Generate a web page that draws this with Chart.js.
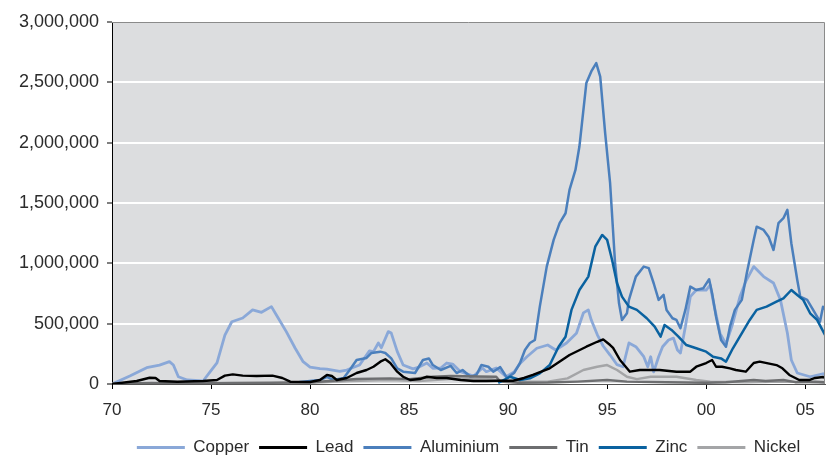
<!DOCTYPE html>
<html>
<head>
<meta charset="utf-8">
<title>Metal stocks</title>
<script src="https://cdn.jsdelivr.net/npm/chart.js@4.4.1/dist/chart.umd.min.js"></script>
<style>
  html, body { margin: 0; padding: 0; background: #fff; }
  #wrap { width: 826px; height: 457px; position: relative; }
</style>
</head>
<body>
<div id="wrap"><canvas id="stocksChart"></canvas></div>
<script>
// Stocks in tonnes, x = year (70 = 1970, 100 = 2000)
const copperYears = [70, 70.9, 71.75, 72.4, 72.9, 73.1, 73.35, 73.8, 74.6, 74.95, 75.3, 75.7, 76.05, 76.6, 77.1, 77.55, 78.05, 78.3, 78.8, 79.25, 79.65, 80, 80.5, 80.85, 81.5, 81.85, 82.5, 83, 83.2, 83.45, 83.6, 83.95, 84.1, 84.4, 84.7, 85.2, 85.5, 85.9, 86.2, 86.6, 86.9, 87.2, 87.6, 88.25, 88.7, 88.9, 89.4, 89.9, 90.3, 90.6, 90.95, 91.45, 92, 92.4, 92.95, 93.45, 93.8, 94.05, 94.2, 94.5, 94.8, 95.15, 95.5, 95.8, 96.1, 96.45, 96.7, 96.85, 97.05, 97.2, 97.35, 97.6, 97.8, 98.1, 98.35, 98.55, 98.7, 98.95, 99.2, 99.5, 100, 100.2, 100.4, 100.7, 101, 101.3, 101.7, 102, 102.4, 102.9, 103.4, 103.75, 104.1, 104.3, 104.6, 105.25, 105.9, 106];
const copperTonnes = [0, 66000, 135000, 157000, 185000, 157000, 60000, 33000, 25000, 100000, 175000, 405000, 516000, 547000, 614000, 594000, 641000, 572000, 434000, 296000, 185000, 140000, 128000, 124000, 105000, 116000, 157000, 275000, 268000, 340000, 300000, 434000, 422000, 270000, 157000, 125000, 140000, 174000, 130000, 133000, 174000, 165000, 102000, 65000, 133000, 102000, 133000, 60000, 100000, 170000, 226000, 296000, 323000, 282000, 340000, 420000, 589000, 614000, 530000, 410000, 315000, 240000, 160000, 143000, 340000, 309000, 257000, 226000, 143000, 226000, 100000, 226000, 309000, 365000, 380000, 282000, 257000, 475000, 724000, 779000, 779000, 820000, 650000, 420000, 330000, 480000, 720000, 850000, 973000, 890000, 837000, 697000, 422000, 199000, 91000, 60000, 85000, 75000];

const leadYears = [70, 71.25, 71.9, 72.2, 72.4, 73.3, 74.6, 75.3, 75.7, 76.1, 76.6, 77.3, 78.1, 78.6, 79, 80, 80.5, 80.85, 81.1, 81.35, 81.85, 82.35, 82.85, 83.2, 83.55, 83.8, 84.05, 84.4, 84.7, 85.05, 85.55, 85.9, 86.4, 86.9, 87.6, 88.25, 88.9, 89.6, 90.25, 90.8, 91.25, 92.1, 93.1, 93.95, 94.5, 94.8, 95.15, 95.3, 95.65, 96.15, 96.65, 97.65, 98.5, 99.2, 99.5, 100, 100.3, 100.5, 100.8, 101.2, 101.5, 102, 102.4, 102.7, 103.55, 103.85, 104.2, 104.7, 105.2, 105.5, 105.9, 106];
const leadTonnes = [0, 25000, 52000, 50000, 25000, 19000, 25000, 33000, 69000, 80000, 69000, 66000, 69000, 50000, 19000, 17000, 33000, 75000, 66000, 33000, 50000, 91000, 116000, 143000, 185000, 205000, 174000, 102000, 60000, 33000, 41000, 60000, 50000, 50000, 33000, 25000, 25000, 27000, 27000, 50000, 75000, 130000, 240000, 309000, 350000, 370000, 323000, 300000, 199000, 102000, 116000, 116000, 102000, 102000, 143000, 174000, 199000, 143000, 143000, 130000, 116000, 102000, 174000, 185000, 157000, 130000, 75000, 33000, 33000, 50000, 58000, 50000];

const aluminiumYears = [79.3, 79.5, 80.5, 80.85, 81.2, 81.7, 82, 82.35, 82.85, 83.1, 83.55, 83.8, 84.1, 84.4, 84.7, 85.3, 85.7, 86, 86.2, 86.6, 87.1, 87.4, 87.7, 88.1, 88.4, 88.65, 89, 89.25, 89.6, 89.95, 90.3, 90.6, 90.85, 91.1, 91.35, 91.6, 91.95, 92.3, 92.6, 92.9, 93.1, 93.4, 93.6, 93.95, 94.2, 94.45, 94.65, 94.9, 95.15, 95.4, 95.6, 95.75, 96, 96.1, 96.45, 96.85, 97.1, 97.35, 97.6, 97.85, 98, 98.3, 98.5, 98.7, 98.95, 99.2, 99.5, 99.85, 100.15, 100.3, 100.5, 100.75, 101, 101.2, 101.45, 101.8, 102.05, 102.4, 102.55, 102.9, 103.15, 103.4, 103.65, 103.9, 104.1, 104.3, 104.6, 104.75, 105.1, 105.4, 105.75, 105.9, 106];
const aluminiumTonnes = [0, 17000, 33000, 60000, 33000, 50000, 116000, 199000, 216000, 257000, 268000, 257000, 212000, 130000, 102000, 91000, 199000, 212000, 157000, 116000, 150000, 91000, 116000, 60000, 75000, 157000, 143000, 102000, 140000, 50000, 91000, 174000, 282000, 340000, 365000, 641000, 973000, 1194000, 1333000, 1415000, 1609000, 1774000, 1968000, 2494000, 2590000, 2659000, 2548000, 2079000, 1664000, 1001000, 669000, 531000, 586000, 697000, 890000, 973000, 960000, 835000, 697000, 738000, 614000, 545000, 531000, 462000, 614000, 807000, 779000, 793000, 868000, 752000, 558000, 365000, 309000, 475000, 614000, 697000, 918000, 1194000, 1304000, 1277000, 1221000, 1111000, 1333000, 1374000, 1443000, 1167000, 862000, 724000, 697000, 614000, 517000, 641000, 620000];

const tinYears = [70, 72, 74, 76, 78, 80, 81, 82.35, 84.05, 85, 86.2, 87.1, 88.4, 89.4, 89.6, 90.5, 92, 93.5, 95, 96, 98, 100, 101, 102.4, 103, 103.9, 104.5, 105.5, 106];
const tinTonnes = [3000, 8000, 5000, 8000, 10000, 15000, 25000, 41000, 47000, 40000, 60000, 66000, 62000, 60000, 20000, 10000, 12000, 20000, 33000, 20000, 15000, 10000, 15000, 33000, 25000, 33000, 15000, 20000, 15000];

const zincYears = [89.5, 90.1, 90.6, 91.1, 91.6, 92.1, 92.55, 92.9, 93.2, 93.6, 94.05, 94.4, 94.75, 95, 95.25, 95.5, 95.75, 96.1, 96.5, 97, 97.4, 97.7, 97.9, 98.25, 98.6, 99, 99.5, 100, 100.35, 100.75, 101, 101.35, 101.7, 102.2, 102.55, 103.05, 103.55, 103.9, 104.3, 104.6, 104.9, 105.25, 105.6, 106];
const zincTonnes = [10000, 60000, 33000, 47000, 88000, 157000, 309000, 392000, 614000, 779000, 890000, 1138000, 1235000, 1194000, 1028000, 835000, 724000, 641000, 614000, 545000, 475000, 392000, 489000, 448000, 392000, 323000, 296000, 268000, 226000, 212000, 185000, 296000, 392000, 531000, 614000, 641000, 682000, 710000, 779000, 738000, 697000, 586000, 531000, 406000];

const nickelYears = [70, 75, 79, 80, 82, 84, 85.5, 87, 89, 90, 92, 93, 93.8, 94.5, 95, 95.5, 96, 96.5, 97.2, 98.5, 99.5, 100.2, 102, 104, 106];
const nickelTonnes = [0, 3000, 5000, 10000, 25000, 33000, 25000, 40000, 45000, 20000, 20000, 47000, 116000, 143000, 157000, 116000, 60000, 40000, 60000, 60000, 33000, 19000, 15000, 20000, 10000];

const xTicks = [70, 75, 80, 85, 90, 95, 100, 105];

const FONT = "'Liberation Sans', Arial, sans-serif";
const TEXT_COLOR = '#2b2b2b';

function toPoints(years, tonnes) {
    return years.map((yr, i) => ({ x: yr, y: tonnes[i] }));
}

function metalLine(label, years, tonnes, color, width, order) {
    return {
        label: label,
        data: toPoints(years, tonnes),
        borderColor: color,
        backgroundColor: color,
        borderWidth: width,
        pointRadius: 0,
        tension: 0,
        borderJoinStyle: 'round',
        order: order
    };
}

// grey plot area + thin frame on top/right
const plotFrame = {
    id: 'plotFrame',
    beforeDraw(chart) {
        const { ctx, chartArea: a } = chart;
        ctx.save();
        ctx.fillStyle = '#dcdddf';
        ctx.fillRect(a.left, a.top, a.right - a.left, a.bottom - a.top);
        ctx.restore();
    },
    afterDatasetsDraw(chart) {
        const { ctx, chartArea: a } = chart;
        ctx.save();
        ctx.strokeStyle = '#8a8a8a';
        ctx.lineWidth = 1;
        ctx.beginPath();
        ctx.moveTo(a.left, a.top + 0.5);
        ctx.lineTo(a.right - 0.5, a.top + 0.5);
        ctx.lineTo(a.right - 0.5, a.bottom);
        ctx.stroke();
        ctx.restore();
    }
};

const ctx = document.getElementById('stocksChart').getContext('2d');
const stocksChart = new Chart(ctx, {
    type: 'line',
    data: {
        datasets: [
            metalLine('Copper', copperYears, copperTonnes, '#8aa8d8', 2.8, 6),
            metalLine('Lead', leadYears, leadTonnes, '#000000', 2.4, 1),
            metalLine('Aluminium', aluminiumYears, aluminiumTonnes, '#4b7fbc', 2.5, 5),
            metalLine('Tin', tinYears, tinTonnes, '#6d6e70', 2.4, 3),
            metalLine('Zinc', zincYears, zincTonnes, '#0a62a0', 2.5, 2),
            metalLine('Nickel', nickelYears, nickelTonnes, '#a4a5a7', 2.4, 4)
        ]
    },
    options: {
        responsive: true,
        maintainAspectRatio: false,
        animation: false,
        layout: { padding: { top: 22, right: 1, left: 0, bottom: -9 } },
        plugins: {
            tooltip: { enabled: false },
            legend: {
                position: 'bottom',
                fullSize: false,
                labels: {
                    color: TEXT_COLOR,
                    font: { family: FONT, size: 17 },
                    boxWidth: 48,
                    boxHeight: 3,
                    padding: 10,
                    sort: (a, b) => a.datasetIndex - b.datasetIndex,
                    generateLabels(chart) {
                        const items = Chart.defaults.plugins.legend.labels.generateLabels(chart);
                        items.forEach(it => { it.lineWidth = 0; });
                        return items;
                    }
                }
            }
        },
        scales: {
            x: {
                type: 'linear',
                min: 70,
                max: 106,
                afterFit(scale) { scale.height = 45; },
                afterBuildTicks(scale) {
                    scale.ticks = xTicks.map(v => ({ value: v }));
                },
                ticks: {
                    color: TEXT_COLOR,
                    font: { family: FONT, size: 17 },
                    padding: 11,
                    maxRotation: 0,
                    callback: v => String(v % 100).padStart(2, '0')
                },
                grid: {
                    drawOnChartArea: false,
                    drawTicks: true,
                    tickLength: 5,
                    tickColor: '#000',
                    tickWidth: 1
                },
                border: { color: '#555', width: 1 }
            },
            y: {
                min: 0,
                max: 3000000,
                afterFit(scale) { scale.width = 112; },
                ticks: {
                    stepSize: 500000,
                    color: TEXT_COLOR,
                    font: { family: FONT, size: 18 },
                    padding: 8,
                    callback: v => v.toLocaleString('en-US')
                },
                grid: {
                    color: '#ffffff',
                    lineWidth: 2,
                    tickLength: 5,
                    tickColor: '#000',
                    tickWidth: 1
                },
                border: { color: '#000', width: 1 }
            }
        }
    },
    plugins: [plotFrame]
});
</script>
</body>
</html>
